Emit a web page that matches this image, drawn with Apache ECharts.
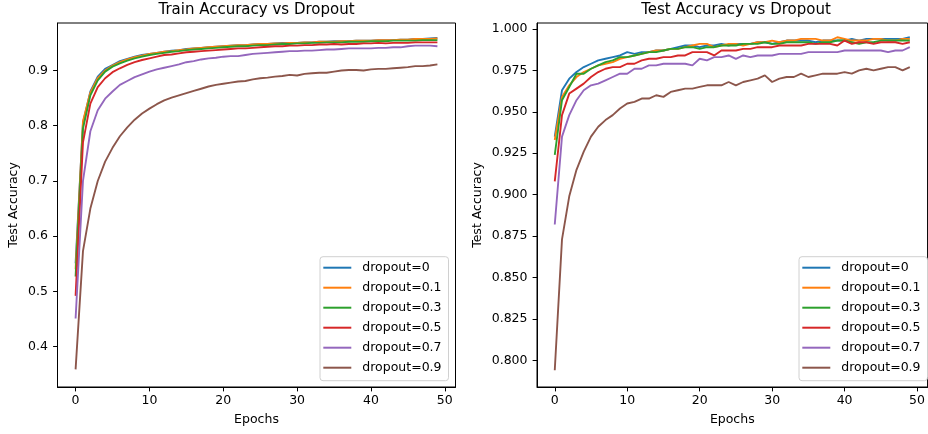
<!DOCTYPE html>
<html><head><meta charset="utf-8">
<script src="https://cdn.jsdelivr.net/npm/echarts@6/dist/echarts.min.js"></script>
<style>html,body{margin:0;padding:0;background:#fff}#c{width:928px;height:434px}</style>
</head><body><div id="c"></div>
<script>
const epochs = [0,1,2,3,4,5,6,7,8,9,10,11,12,13,14,15,16,17,18,19,20,21,22,23,24,25,26,27,28,29,30,31,32,33,34,35,36,37,38,39,40,41,42,43,44,45,46,47,48,49];
const seriesNames = ['dropout=0','dropout=0.1','dropout=0.3','dropout=0.5','dropout=0.7','dropout=0.9'];
const colors = ['#1f77b4','#ff7f0e','#2ca02c','#d62728','#9467bd','#8c564b'];
const xTicks = [0,10,20,30,40,50];
const trainYTicks = [0.4,0.5,0.6,0.7,0.8,0.9];
const testYTicks = [0.800,0.825,0.850,0.875,0.900,0.925,0.950,0.975,1.000];

const train_d0  = [0.551,0.805,0.862,0.889,0.903,0.910,0.917,0.921,0.925,0.928,0.930,0.932,0.934,0.936,0.937,0.939,0.940,0.941,0.942,0.943,0.944,0.945,0.946,0.946,0.947,0.948,0.948,0.949,0.950,0.950,0.950,0.951,0.951,0.952,0.952,0.953,0.953,0.953,0.954,0.954,0.954,0.955,0.955,0.955,0.956,0.956,0.957,0.957,0.958,0.959];
const train_d01 = [0.540,0.808,0.860,0.886,0.900,0.909,0.915,0.920,0.924,0.927,0.930,0.932,0.934,0.935,0.937,0.938,0.940,0.941,0.942,0.943,0.944,0.945,0.946,0.946,0.947,0.948,0.948,0.949,0.949,0.950,0.950,0.951,0.951,0.952,0.952,0.952,0.953,0.953,0.954,0.954,0.954,0.955,0.955,0.955,0.956,0.956,0.957,0.957,0.957,0.958];
const train_d03 = [0.527,0.795,0.855,0.882,0.898,0.907,0.913,0.918,0.922,0.925,0.928,0.930,0.932,0.934,0.935,0.937,0.938,0.939,0.940,0.941,0.942,0.943,0.944,0.944,0.945,0.946,0.946,0.947,0.948,0.948,0.949,0.949,0.950,0.950,0.951,0.951,0.951,0.952,0.952,0.952,0.953,0.953,0.953,0.954,0.954,0.954,0.954,0.955,0.955,0.955];
const train_d05 = [0.492,0.770,0.840,0.870,0.886,0.897,0.904,0.910,0.915,0.919,0.922,0.925,0.928,0.929,0.931,0.933,0.934,0.935,0.936,0.937,0.938,0.939,0.940,0.940,0.941,0.942,0.943,0.944,0.944,0.945,0.945,0.946,0.946,0.947,0.947,0.948,0.947,0.948,0.948,0.949,0.949,0.950,0.949,0.950,0.950,0.950,0.951,0.951,0.951,0.951];
const train_d07 = [0.451,0.700,0.790,0.828,0.849,0.862,0.874,0.881,0.888,0.893,0.898,0.902,0.905,0.908,0.911,0.915,0.917,0.920,0.922,0.923,0.925,0.926,0.926,0.928,0.930,0.931,0.932,0.933,0.934,0.935,0.935,0.936,0.936,0.937,0.938,0.938,0.939,0.940,0.940,0.940,0.940,0.941,0.941,0.942,0.942,0.944,0.945,0.945,0.945,0.944];
const train_d09 = [0.359,0.573,0.650,0.700,0.735,0.760,0.781,0.797,0.811,0.822,0.831,0.839,0.846,0.851,0.855,0.859,0.863,0.867,0.871,0.874,0.876,0.878,0.880,0.881,0.884,0.886,0.887,0.889,0.890,0.892,0.891,0.894,0.895,0.896,0.896,0.898,0.900,0.901,0.901,0.900,0.902,0.903,0.903,0.904,0.905,0.906,0.908,0.908,0.909,0.911];

const test_d0  = [0.935,0.963,0.970,0.974,0.977,0.979,0.981,0.982,0.983,0.984,0.986,0.985,0.986,0.986,0.987,0.987,0.988,0.989,0.990,0.990,0.989,0.990,0.990,0.991,0.990,0.991,0.991,0.991,0.992,0.992,0.991,0.992,0.993,0.993,0.993,0.993,0.992,0.993,0.993,0.993,0.993,0.994,0.993,0.994,0.994,0.994,0.994,0.994,0.994,0.995];
const test_d01 = [0.933,0.959,0.966,0.971,0.974,0.976,0.978,0.979,0.980,0.982,0.983,0.984,0.985,0.986,0.987,0.987,0.988,0.988,0.989,0.990,0.991,0.991,0.989,0.990,0.991,0.991,0.990,0.991,0.992,0.992,0.993,0.992,0.993,0.993,0.994,0.994,0.994,0.993,0.993,0.995,0.994,0.993,0.993,0.993,0.994,0.994,0.993,0.993,0.994,0.994];
const test_d03 = [0.924,0.957,0.965,0.973,0.973,0.976,0.978,0.980,0.981,0.983,0.983,0.984,0.985,0.986,0.986,0.987,0.988,0.988,0.989,0.989,0.988,0.989,0.989,0.990,0.990,0.990,0.991,0.991,0.991,0.992,0.991,0.991,0.992,0.992,0.992,0.992,0.991,0.992,0.992,0.993,0.993,0.992,0.991,0.992,0.992,0.993,0.993,0.993,0.993,0.993];
const test_d05 = [0.908,0.948,0.961,0.964,0.967,0.971,0.974,0.976,0.977,0.977,0.979,0.979,0.981,0.982,0.982,0.983,0.983,0.984,0.984,0.986,0.986,0.986,0.984,0.987,0.987,0.987,0.988,0.988,0.989,0.989,0.989,0.990,0.990,0.990,0.990,0.991,0.991,0.991,0.991,0.990,0.993,0.991,0.992,0.992,0.991,0.992,0.992,0.992,0.991,0.992];
const test_d07 = [0.882,0.935,0.948,0.957,0.963,0.966,0.967,0.969,0.971,0.973,0.973,0.976,0.976,0.978,0.978,0.979,0.979,0.979,0.979,0.978,0.982,0.981,0.983,0.983,0.984,0.982,0.984,0.983,0.984,0.984,0.984,0.985,0.985,0.985,0.985,0.986,0.986,0.986,0.986,0.986,0.987,0.987,0.987,0.987,0.987,0.987,0.986,0.987,0.987,0.989];
const test_d09 = [0.794,0.873,0.899,0.915,0.926,0.935,0.941,0.945,0.948,0.952,0.955,0.956,0.958,0.958,0.960,0.959,0.962,0.963,0.964,0.964,0.965,0.966,0.966,0.966,0.968,0.966,0.968,0.969,0.970,0.972,0.968,0.970,0.971,0.971,0.973,0.971,0.972,0.973,0.973,0.973,0.974,0.973,0.975,0.976,0.975,0.976,0.977,0.977,0.975,0.977];

const trainData = [train_d0, train_d01, train_d03, train_d05, train_d07, train_d09];
const testData = [test_d0, test_d01, test_d03, test_d05, test_d07, test_d09];

const FONT = '"DejaVu Sans", sans-serif';
const TXT = {fontFamily: FONT, fontSize: 12.5, color: '#000'};

function pairs(arr){ return arr.map((v,i)=>[epochs[i], v]); }

function xAxisCfg(gi){
  return {type:'value', gridIndex:gi, min:-2.45, max:51.45,
    axisLine:{show:true, onZero:false, lineStyle:{color:'#000', width:1}},
    axisTick:{show:true, inside:false, length:4.4, lineStyle:{color:'#000', width:1}, customValues:xTicks},
    axisLabel:Object.assign({customValues:xTicks, margin:7}, TXT),
    splitLine:{show:false},
    name:'Epochs', nameLocation:'middle', nameGap:26, nameTextStyle:TXT};
}
function yAxisCfg(gi, min, max, ticks, dec, gap){
  return {type:'value', gridIndex:gi, min:min, max:max,
    axisLine:{show:true, onZero:false, lineStyle:{color:'#000', width:1}},
    axisTick:{show:true, inside:false, length:4.4, lineStyle:{color:'#000', width:1}, customValues:ticks},
    axisLabel:Object.assign({customValues:ticks, margin:9.5, formatter:(v)=>v.toFixed(dec)}, TXT),
    splitLine:{show:false},
    name:'Test Accuracy', nameLocation:'middle', nameRotate:90, nameGap:gap, nameTextStyle:TXT};
}
function legendCfg(left){
  return {orient:'vertical', left:left, top:256.7, itemWidth:28, itemHeight:2, itemGap:0, icon:'rect',
    padding:[1,7,3,3.3], backgroundColor:'rgba(255,255,255,0.8)', borderColor:'#d0d0d0', borderWidth:1, borderRadius:3,
    textStyle:Object.assign({lineHeight:20, padding:[0,0,0,6]}, TXT), data:seriesNames};
}

const series = [];
trainData.forEach((d,i)=>series.push({name:seriesNames[i], type:'line', xAxisIndex:0, yAxisIndex:0, data:pairs(d),
  showSymbol:false, symbol:'none', lineStyle:{width:1.875, color:colors[i]}, itemStyle:{color:colors[i]}}));
testData.forEach((d,i)=>series.push({name:seriesNames[i], type:'line', xAxisIndex:1, yAxisIndex:1, data:pairs(d),
  showSymbol:false, symbol:'none', lineStyle:{width:1.875, color:colors[i]}, itemStyle:{color:colors[i]}}));

const chart = echarts.init(document.getElementById('c'), null, {renderer:'canvas'});
chart.setOption({
  animation:false,
  backgroundColor:'#fff',
  grid:[
    {left:57.5, top:23, width:398, height:364, show:true, borderColor:'#000', borderWidth:1, backgroundColor:'transparent'},
    {left:537, top:23, width:398, height:364, show:true, borderColor:'#000', borderWidth:1, backgroundColor:'transparent'}
  ],
  xAxis:[xAxisCfg(0), xAxisCfg(1)],
  yAxis:[yAxisCfg(0, 0.327, 0.986, trainYTicks, 1, 37), yAxisCfg(1, 0.7839, 1.0036, testYTicks, 3, 53)],
  legend:[legendCfg(320), legendCfg(799)],
  graphic:[
    {type:'text', x:256.5, y:10, style:{text:'Train Accuracy vs Dropout', font:'15px "DejaVu Sans"', fill:'#000', align:'center', verticalAlign:'middle'}},
    {type:'text', x:736, y:10, style:{text:'Test Accuracy vs Dropout', font:'15px "DejaVu Sans"', fill:'#000', align:'center', verticalAlign:'middle'}}
  ],
  series:series
});
</script></body></html>
